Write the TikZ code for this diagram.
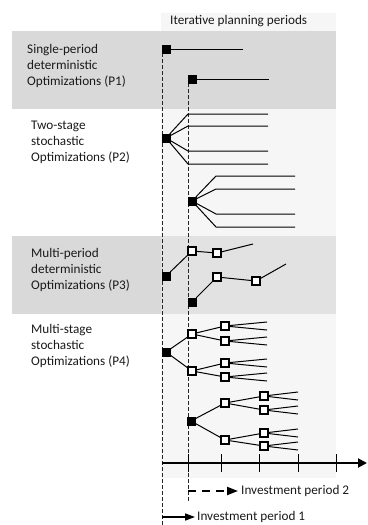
\documentclass[tikz,border=0pt]{standalone}
\usepackage{fontspec}
\setmainfont{Carlito}
\usetikzlibrary{arrows.meta}
\definecolor{band}{HTML}{D9D9D9}
\definecolor{bandlight}{HTML}{E2E2E2}
\definecolor{colbg}{HTML}{F6F6F6}
\definecolor{txt}{HTML}{1A1A1A}
\begin{document}
\begin{tikzpicture}[x=1pt,y=-1pt,
  fsq/.style={draw=black,fill=black,minimum size=8pt,inner sep=0pt,line width=0.3pt},
  hsq/.style={draw=black,fill=white,minimum size=7.5pt,inner sep=0pt,line width=1.6pt},
  br/.style={line width=1pt,draw=black},
  guide/.style={dash pattern=on 3.5pt off 2.5pt,line width=0.9pt,draw=black!85},
  lab/.style={align=left,anchor=base west,inner sep=0pt,text=txt,font=\fontsize{13.2}{16}\selectfont},
  axistip/.style={-{Triangle[length=9pt,width=9pt]}},
]
\useasboundingbox (0,0) rectangle (367,525);
% backgrounds
\fill[colbg] (161,13) rectangle (336,478);
\fill[band] (12,31) rectangle (336,109);
\fill[band] (12,236) rectangle (161,314);
\fill[bandlight] (161,236) rectangle (336,314);

% header
\node[lab] (hdr) at (170,24) {Iterative planning periods};

% labels (base = last line baseline)
\node[lab] (l1) at (27,85) {Single-period\\deterministic\\Optimizations (P1)};
\node[lab] (l2) at (31,161) {Two-stage\\stochastic\\Optimizations (P2)};
\node[lab] (l3) at (31,289) {Multi-period\\deterministic\\Optimizations (P3)};
\node[lab] (l4) at (31,365) {Multi-stage\\stochastic\\Optimizations (P4)};

% guide lines
\coordinate (g1a) at (162,53);
\coordinate (g1b) at (162,525);
\coordinate (g2a) at (188,83);
\coordinate (g2b) at (188,502);
\draw[guide] (g1a) -- (g1b);
\draw[guide] (g2a) -- (g2b);

% P1
\node[fsq] (p1a) at (166,49) {};
\coordinate (p1ae) at (243,49);
\draw[br] (p1a) -- (p1ae);
\node[fsq] (p1b) at (192,79) {};
\coordinate (p1be) at (269,79);
\draw[br] (p1b) -- (p1be);

% P2 first tree
\node[fsq] (p2a) at (166,138) {};
\foreach \i/\y in {1/114,2/126,3/151,4/164}{
  \coordinate (p2ak\i) at (188,\y);
  \coordinate (p2ae\i) at (268,\y);
  \draw[br] (p2a) -- (p2ak\i) -- (p2ae\i);
}
% P2 second tree
\node[fsq] (p2b) at (192,201) {};
\foreach \i/\y in {1/176,2/189,3/214,4/227}{
  \coordinate (p2bk\i) at (216,\y);
  \coordinate (p2be\i) at (295,\y);
  \draw[br] (p2b) -- (p2bk\i) -- (p2be\i);
}

% P3
\node[fsq] (p3a) at (166,276) {};
\node[hsq] (p3a1) at (192,251) {};
\node[hsq] (p3a2) at (217,253) {};
\coordinate (p3ae) at (253,244);
\draw[br] (p3a) -- (p3a1) -- (p3a2) -- (p3ae);
\node[fsq] (p3b) at (192,302) {};
\node[hsq] (p3b1) at (217,277) {};
\node[hsq] (p3b2) at (256,281) {};
\coordinate (p3be) at (286,264);
\draw[br] (p3b) -- (p3b1) -- (p3b2) -- (p3be);

% P4 first tree
\node[fsq] (p4a) at (166,352) {};
\node[hsq] (p4a1) at (192,334) {};
\node[hsq] (p4a2) at (192,371) {};
\draw[br] (p4a) -- (p4a1);
\draw[br] (p4a) -- (p4a2);
\node[hsq] (p4a11) at (225,326) {};
\node[hsq] (p4a12) at (225,341) {};
\node[hsq] (p4a21) at (225,363) {};
\node[hsq] (p4a22) at (225,377) {};
\draw[br] (p4a1) -- (p4a11);
\draw[br] (p4a1) -- (p4a12);
\draw[br] (p4a2) -- (p4a21);
\draw[br] (p4a2) -- (p4a22);
\foreach \n/\y in {p4a11/326,p4a12/341,p4a21/363,p4a22/377}{
  \coordinate (\n u) at (267,\y-4);
  \coordinate (\n d) at (267,\y+4);
  \draw[br] (\n) -- (\n u);
  \draw[br] (\n) -- (\n d);
}
% P4 second tree
\node[fsq] (p4b) at (191,421) {};
\node[hsq] (p4b1) at (225,403) {};
\node[hsq] (p4b2) at (225,440) {};
\draw[br] (p4b) -- (p4b1);
\draw[br] (p4b) -- (p4b2);
\node[hsq] (p4b11) at (264,396) {};
\node[hsq] (p4b12) at (264,410) {};
\node[hsq] (p4b21) at (264,433) {};
\node[hsq] (p4b22) at (264,446) {};
\draw[br] (p4b1) -- (p4b11);
\draw[br] (p4b1) -- (p4b12);
\draw[br] (p4b2) -- (p4b21);
\draw[br] (p4b2) -- (p4b22);
\foreach \n/\y in {p4b11/396,p4b12/410,p4b21/433,p4b22/446}{
  \coordinate (\n u) at (298,\y-4);
  \coordinate (\n d) at (298,\y+4);
  \draw[br] (\n) -- (\n u);
  \draw[br] (\n) -- (\n d);
}

% time axis
\coordinate (ax0) at (162,463);
\coordinate (ax1) at (367,463);
\draw[line width=2pt,axistip] (ax0) -- (ax1);
\foreach \x [count=\i] in {188,221,259,298,336}{
  \coordinate (t\i a) at (\x,454);
  \coordinate (t\i b) at (\x,472);
  \draw[line width=1pt] (t\i a) -- (t\i b);
}

% legend
\coordinate (lg2a) at (188,491);
\node[lab,anchor=west] (lg2) at (241,491) {Investment period 2};
\draw[line width=2pt,dash pattern=on 8pt off 6pt,-{Triangle[length=11pt,width=8pt]}] (lg2a) -- ([xshift=-3pt]lg2.west);
\coordinate (lg1a) at (162,517);
\node[lab,anchor=west] (lg1) at (197,517) {Investment period 1};
\draw[line width=1.5pt,-{Triangle[length=10pt,width=7pt]}] (lg1a) -- ([xshift=-2pt]lg1.west);
\end{tikzpicture}
\end{document}
